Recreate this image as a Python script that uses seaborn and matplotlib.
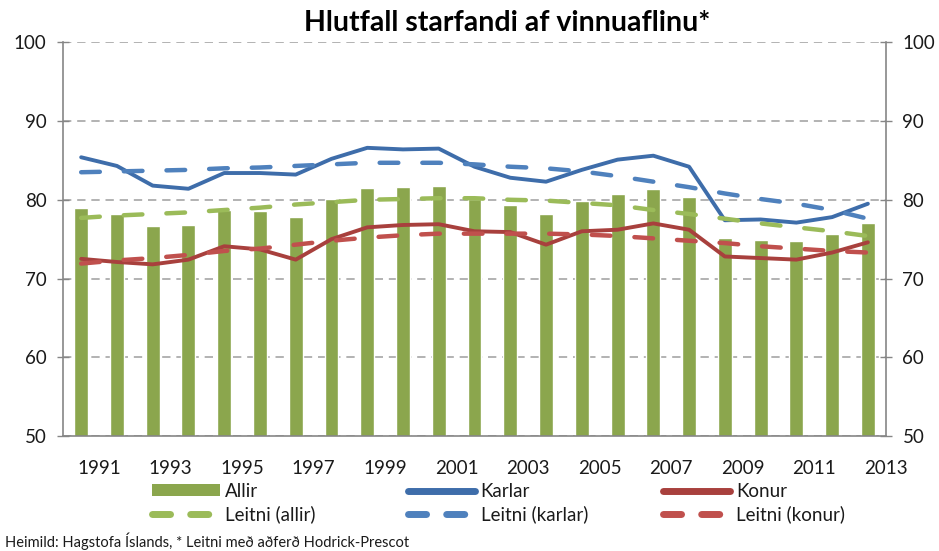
import numpy as np
import pandas as pd
import matplotlib
matplotlib.use("Agg")
import matplotlib.pyplot as plt
import matplotlib.transforms as mtransforms
from matplotlib.lines import Line2D
from matplotlib.patches import Patch
import seaborn as sns

years = list(range(1991, 2014))
allir = [78.9, 78.2, 76.7, 76.8, 78.7, 78.6, 77.8, 80.1, 81.5, 81.6, 81.7, 80.1,
         79.3, 78.2, 79.9, 80.7, 81.4, 80.3, 75.1, 74.9, 74.8, 75.6, 77.0]
karlar = [85.4, 84.3, 81.8, 81.4, 83.4, 83.4, 83.2, 85.2, 86.6, 86.4, 86.5, 84.2,
          82.8, 82.3, 83.8, 85.1, 85.6, 84.2, 77.4, 77.5, 77.1, 77.8, 79.5]
konur = [72.5, 72.1, 71.8, 72.4, 74.1, 73.7, 72.4, 75.0, 76.5, 76.8, 76.9, 76.0,
         75.9, 74.3, 76.0, 76.2, 77.0, 76.2, 72.8, 72.6, 72.4, 73.3, 74.6]
leitni_allir = [77.7, 78.0, 78.2, 78.4, 78.7, 79.0, 79.4, 79.7, 80.0, 80.1, 80.2, 80.2,
                80.0, 79.9, 79.6, 79.3, 78.7, 78.2, 77.6, 77.0, 76.5, 76.0, 75.4]
leitni_karlar = [83.5, 83.6, 83.7, 83.8, 84.0, 84.1, 84.3, 84.5, 84.7, 84.7, 84.7, 84.5,
                 84.2, 84.0, 83.6, 83.0, 82.3, 81.6, 80.8, 80.1, 79.5, 78.7, 77.6]
leitni_konur = [71.9, 72.3, 72.6, 73.0, 73.5, 73.8, 74.3, 74.8, 75.2, 75.5, 75.7, 75.7,
                75.7, 75.7, 75.6, 75.4, 75.1, 74.8, 74.5, 74.1, 73.8, 73.5, 73.3]
tick_years = [str(y) for y in range(1991, 2014, 2)]

title = "Hlutfall starfandi af vinnuaflinu*"
source = "Heimild: Hagstofa Íslands, * Leitni með aðferð Hodrick-Prescot"

c_bar = "#8BA64D"
c_karlar = "#3E6DAA"
c_konur = "#A8403D"
c_l_allir = "#9BBB59"
c_l_karlar = "#4F81BD"
c_l_konur = "#C0504D"

sns.set_theme(style="white")
plt.rcParams["font.family"] = ["Lato", "DejaVu Sans"]

df = pd.DataFrame({
    "pos": np.arange(len(years)),
    "year": years,
    "allir": allir,
    "karlar": karlar,
    "konur": konur,
    "leitni_allir": leitni_allir,
    "leitni_karlar": leitni_karlar,
    "leitni_konur": leitni_konur,
})

fig = plt.figure(figsize=(9.39, 5.51), dpi=100)
ax = fig.add_axes([0.0674, 0.2087, 0.8759, 0.7145])

sns.barplot(data=df, x="pos", y="allir", color=c_bar, width=0.39, ax=ax,
            saturation=1, native_scale=True, zorder=2)

dash_style = dict(linestyle=(0, (4.2, 5.4)), dash_capstyle="round")
lw_solid = 2.8
lw_dash = 3.2
sns.lineplot(data=df, x="pos", y="karlar", color=c_karlar, lw=lw_solid, ax=ax, zorder=3)
sns.lineplot(data=df, x="pos", y="konur", color=c_konur, lw=lw_solid, ax=ax, zorder=3)
for col, c in [("leitni_allir", c_l_allir), ("leitni_karlar", c_l_karlar), ("leitni_konur", c_l_konur)]:
    sns.lineplot(data=df, x="pos", y=col, color=c, lw=lw_dash, ax=ax, zorder=4, **dash_style)

ax.set_xlim(-0.5, len(years) - 0.5)
ax.set_ylim(50, 100)
ax.set_yticks([50, 60, 70, 80, 90, 100])
ax.set_xlabel("")
ax.set_ylabel("")

# Gridlines
ax.yaxis.grid(True, color="#A6A6A6", linestyle=(0, (5, 3.5)), lw=1.2, zorder=0)
ax.xaxis.grid(False)
ax.set_axisbelow(True)

# Ticks
xt = np.arange(-0.5, len(years), 1.0)
xl = [""] * len(xt)
for k, lab in enumerate(tick_years):
    xl[2 * k + 1] = lab
ax.set_xticks(xt)
ax.set_xticklabels(xl, fontsize=13.5, color="#1a1a1a")
offset = mtransforms.ScaledTranslation(3 / 100, 0, fig.dpi_scale_trans)
for lab in ax.get_xticklabels():
    lab.set_transform(lab.get_transform() + offset)

ax.tick_params(axis="x", direction="out", length=5, width=1, color="#868686", pad=12)
ax.tick_params(axis="y", direction="inout", length=8, width=1, color="#868686",
               labelsize=13.5, labelcolor="#1a1a1a", pad=8,
               left=True, right=True, labelleft=True, labelright=True)

for s in ["left", "right", "bottom"]:
    ax.spines[s].set_visible(True)
    ax.spines[s].set_color("#868686")
    ax.spines[s].set_linewidth(1.2)
ax.spines["top"].set_visible(False)

# Title
fig.text(0.540, 0.958, title, ha="center", va="center", fontsize=20.5,
         fontweight="bold", color="black")

# Legend: three columns placed like the original
dash_leg = dict(lw=5, linestyle=(0, (2.6, 2.9)), dash_capstyle="round")
columns = [
    (0.162, [Patch(facecolor=c_bar, edgecolor="none"),
             Line2D([], [], color=c_l_allir, **dash_leg)], ["Allir", "Leitni (allir)"]),
    (0.434, [Line2D([], [], color=c_karlar, lw=5, solid_capstyle="round"),
             Line2D([], [], color=c_l_karlar, **dash_leg)], ["Karlar", "Leitni (karlar)"]),
    (0.706, [Line2D([], [], color=c_konur, lw=5, solid_capstyle="round"),
             Line2D([], [], color=c_l_konur, **dash_leg)], ["Konur", "Leitni (konur)"]),
]
for xpos, hs, ls in columns:
    leg = fig.legend(hs, ls, loc="center left", bbox_to_anchor=(xpos, 0.087),
                     frameon=False, fontsize=13.5, handlelength=3.6, handleheight=0.6,
                     handletextpad=0.3, labelspacing=0.3, borderpad=0, borderaxespad=0)
    for t in leg.get_texts():
        t.set_color("#1a1a1a")

fig.text(0.005, 0.018, source, ha="left", va="center", fontsize=10.5, color="#1a1a1a")

fig.savefig("out.png", dpi=100)
